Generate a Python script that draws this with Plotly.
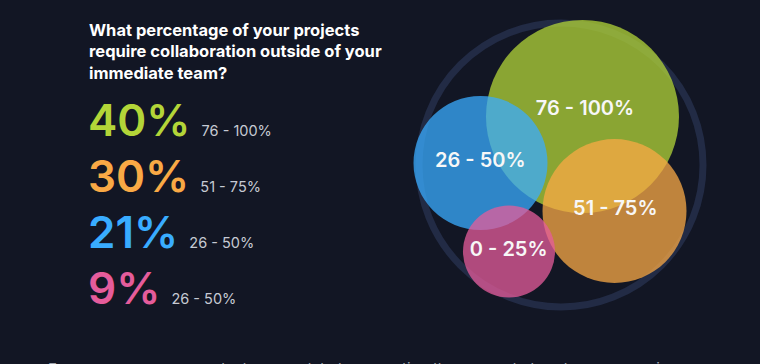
import plotly.graph_objects as go

# ---- data ----
categories = ["76 - 100%", "51 - 75%", "26 - 50%", "0 - 25%"]
shares = [40, 30, 21, 9]
share_labels = ["76 - 100%", "51 - 75%", "26 - 50%", "26 - 50%"]
colors = ["#b3d538", "#f9a945", "#39acff", "#e55c9b"]

# packed-bubble layout (units relative to the enclosing ring centre)
bubble_x = [21.5, 53.5, -80.5, -52.0]
bubble_y = [48.5, -46.0, 2.0, -86.5]
bubble_r = [96.5, 72.0, 67.0, 46.0]
label_x = [24.0, 54.3, -80.7, -52.3]
label_y = [55.5, -45.0, 3.0, -86.0]
ring_r = 142.0

title = "What percentage of your projects<br>require collaboration outside of your<br>immediate team?"
footer = "Even our survey respondents were global, suggesting these remote trends are appearing"

W, H = 760, 364
BG = "#121624"

fig = go.Figure()

# enclosing ring
fig.add_shape(type="circle", xref="x", yref="y",
              x0=-ring_r, x1=ring_r, y0=-ring_r, y1=ring_r,
              line=dict(color="#222b45", width=7), fillcolor="rgba(0,0,0,0)", layer="below")

# bubbles: draw order green, blue, orange, pink
order = [0, 2, 1, 3]
for i in order:
    fig.add_shape(type="circle", xref="x", yref="y",
                  x0=bubble_x[i] - bubble_r[i], x1=bubble_x[i] + bubble_r[i],
                  y0=bubble_y[i] - bubble_r[i], y1=bubble_y[i] + bubble_r[i],
                  line=dict(width=0), fillcolor=colors[i], opacity=0.75, layer="below")

fig.add_trace(go.Scatter(
    x=label_x, y=label_y, mode="text", text=categories,
    textfont=dict(family="Inter", size=20, color="#f7f7f7", weight=600),
    hoverinfo="skip", showlegend=False))

# left side text
def px(xp, yp):
    return xp / W, 1 - yp / H

tx, ty = px(87, 18)
fig.add_annotation(x=tx, y=ty, xref="paper", yref="paper", xanchor="left", yanchor="top",
                   align="left", showarrow=False, text="<b>" + title + "</b>",
                   font=dict(family="Inter", size=16.5, color="#ffffff"))

row_mid = [120, 176, 232, 288]
for k in range(4):
    ax, ay = px(86, row_mid[k])
    txt = (f"{shares[k]}% "
           f"<span style='font-size:14.5px;font-weight:400;color:#c6cad3'>{share_labels[k]}</span>")
    fig.add_annotation(x=ax, y=ay, xref="paper", yref="paper", xanchor="left", yanchor="middle",
                       align="left", showarrow=False, text=txt,
                       font=dict(family="Inter", size=44, color=colors[k], weight=600))

fx, fy = px(46, 357)
fig.add_annotation(x=fx, y=fy, xref="paper", yref="paper", xanchor="left", yanchor="top",
                   align="left", showarrow=False, text=footer,
                   font=dict(family="Inter", size=15, color="#9ea3ad"))

cx, cy = 561, 165
fig.update_xaxes(range=[-cx, W - cx], visible=False, fixedrange=True)
fig.update_yaxes(range=[-(H - cy), cy], visible=False, fixedrange=True)
fig.update_layout(width=W, height=H, margin=dict(l=0, r=0, t=0, b=0),
                  paper_bgcolor=BG, plot_bgcolor=BG, showlegend=False)

fig.write_html("out.html", config={"displayModeBar": False},
               post_script=("document.body.style.margin='0';"
                            "document.body.style.overflow='hidden';"
                            f"document.body.style.background='{BG}';"))
